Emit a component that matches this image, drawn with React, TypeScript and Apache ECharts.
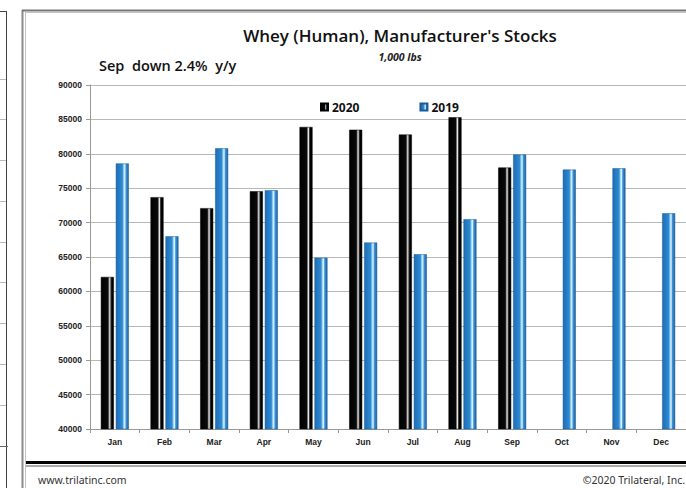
import React, { useEffect, useRef } from "react";
import * as echarts from "echarts";

const months = ["Jan", "Feb", "Mar", "Apr", "May", "Jun", "Jul", "Aug", "Sep", "Oct", "Nov", "Dec"];
const stocks2020 = [62100, 73700, 72100, 74550, 83900, 83500, 82800, 85300, 78000, null, null, null];
const stocks2019 = [78600, 68000, 80800, 74700, 64900, 67100, 65400, 70500, 79900, 77700, 77900, 71350];
const yMin = 40000;
const yMax = 90000;
const yStep = 5000;
const leftStubs = [79, 119, 160, 201, 242, 282, 323, 364, 405, 446];

const blackGrad = () =>
  new echarts.graphic.LinearGradient(0, 0, 1, 0, [
    { offset: 0, color: "#000000" },
    { offset: 0.55, color: "#0a0a0a" },
    { offset: 0.64, color: "#9a9a9a" },
    { offset: 0.7, color: "#e8e8e8" },
    { offset: 0.78, color: "#3a3a3a" },
    { offset: 0.86, color: "#000000" },
    { offset: 1, color: "#000000" },
  ]);

const blueGrad = () =>
  new echarts.graphic.LinearGradient(0, 0, 1, 0, [
    { offset: 0, color: "#1f6db3" },
    { offset: 0.5, color: "#2c8ad3" },
    { offset: 0.62, color: "#a6d7f5" },
    { offset: 0.7, color: "#dcf2fd" },
    { offset: 0.8, color: "#3f96d8" },
    { offset: 1, color: "#1b5e9f" },
  ]);

export default function App() {
  const ref = useRef<HTMLDivElement>(null);
  useEffect(() => {
    if (!ref.current) return;
    const chart = echarts.init(ref.current, null, { renderer: "svg" });
    const graphics: any[] = [
      // left partial panel
      { type: "line", shape: { x1: 6.5, y1: 11, x2: 6.5, y2: 488 }, style: { stroke: "#444", lineWidth: 1 } },
      { type: "line", shape: { x1: 0, y1: 11.5, x2: 7, y2: 11.5 }, style: { stroke: "#444", lineWidth: 1 } },
      ...leftStubs.map((y, i) => ({
        type: "line",
        shape: { x1: 0, y1: y + 0.5, x2: i === leftStubs.length - 1 ? 8 : 6, y2: y + 0.5 },
        style: { stroke: i === leftStubs.length - 1 ? "#666" : "#bbb", lineWidth: 1 },
      })),
      // main panel border
      { type: "line", shape: { x1: 22.5, y1: 10, x2: 22.5, y2: 488 }, style: { stroke: "#8a8a8a", lineWidth: 2 } },
      { type: "line", shape: { x1: 25.5, y1: 12, x2: 25.5, y2: 488 }, style: { stroke: "#c4c4c4", lineWidth: 1 } },
      { type: "line", shape: { x1: 22, y1: 10.5, x2: 686, y2: 10.5 }, style: { stroke: "#777", lineWidth: 2 } },
      { type: "line", shape: { x1: 25, y1: 12.5, x2: 686, y2: 12.5 }, style: { stroke: "#c4c4c4", lineWidth: 1 } },
      // bottom heavy rule
      { type: "rect", shape: { x: 26, y: 461, width: 660, height: 3 }, style: { fill: "#000" } },
      { type: "line", shape: { x1: 26, y1: 466, x2: 686, y2: 466 }, style: { stroke: "#555", lineWidth: 1 } },
      // footer
      {
        type: "text",
        left: 38,
        top: 474,
        style: { text: "www.trilatinc.com", font: "10.5px 'Noto Sans'", fill: "#333" },
      },
      {
        type: "text",
        right: 1,
        top: 474,
        style: { text: "©2020 Trilateral, Inc.", font: "10.5px 'Noto Sans'", fill: "#333" },
      },
    ];

    chart.setOption({
      animation: false,
      backgroundColor: "#ffffff",
      title: [
        {
          text: "Whey (Human), Manufacturer's Stocks",
          left: 395,
          textAlign: "center",
          top: 22,
          textStyle: { fontFamily: "Open Sans", fontSize: 17, fontWeight: 600, color: "#111" },
        },
        {
          text: "1,000 lbs",
          left: 395,
          textAlign: "center",
          top: 46,
          textStyle: { fontFamily: "Noto Sans", fontSize: 10.5, fontWeight: "bold", fontStyle: "italic", color: "#222" },
        },
        {
          text: "Sep  down 2.4%  y/y",
          left: 94,
          top: 53,
          textStyle: { fontFamily: "Open Sans", fontSize: 14.5, fontWeight: 600, color: "#111" },
        },
      ],
      legend: {
        left: 315,
        top: 96,
        itemWidth: 7,
        itemHeight: 7,
        itemGap: 60,
        icon: "rect",
        textStyle: { fontFamily: "Noto Sans", fontSize: 12, fontWeight: "bold", color: "#111", padding: [0, 0, 0, -1] },
        data: ["2020", "2019"],
      },
      grid: { left: 90, top: 85, right: -8, bottom: 59 },
      xAxis: {
        type: "category",
        data: months,
        axisLine: { lineStyle: { color: "#999", width: 1 } },
        axisTick: { show: true, length: 4, lineStyle: { color: "#999" } },
        axisLabel: { fontFamily: "Liberation Sans", fontSize: 8.5, fontWeight: "bold", color: "#222", margin: 8 },
      },
      yAxis: {
        type: "value",
        min: yMin,
        max: yMax,
        interval: yStep,
        axisLine: { show: true, lineStyle: { color: "#999", width: 1 } },
        axisTick: { show: true, length: 4, lineStyle: { color: "#999" } },
        axisLabel: {
          fontFamily: "Liberation Sans",
          fontSize: 8.5,
          fontWeight: "bold",
          color: "#222",
          margin: 8,
          formatter: (v: number) => String(v),
        },
        splitLine: { lineStyle: { color: "#b8b8b8", width: 1 } },
      },
      series: [
        {
          name: "2020",
          type: "bar",
          data: stocks2020,
          barWidth: 13,
          barGap: "15%",
          itemStyle: { color: blackGrad(), borderColor: "#000", borderWidth: 0.5 },
        },
        {
          name: "2019",
          type: "bar",
          data: stocks2019,
          barWidth: 13,
          barGap: "15%",
          itemStyle: { color: blueGrad(), borderColor: "#1a5a99", borderWidth: 0.5 },
        },
      ],
      graphic: graphics,
    });
    return () => chart.dispose();
  }, []);
  return (
    <div
      ref={ref}
      style={{ position: "fixed", left: 0, top: 0, width: 686, height: 488, background: "#fff" }}
    />
  );
}
